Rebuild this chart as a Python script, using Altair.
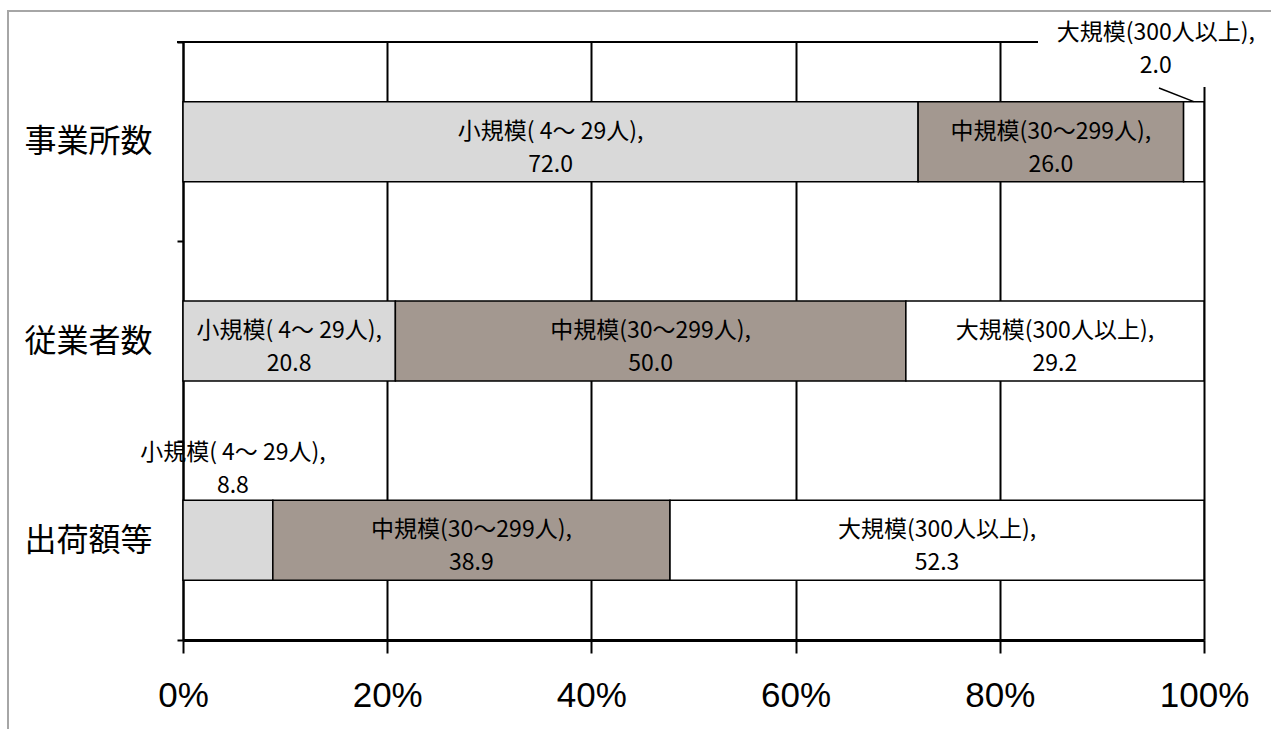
import altair as alt
import pandas as pd

categories = ["事業所数", "従業者数", "出荷額等"]
sizes = ["小規模( 4～ 29人)", "中規模(30～299人)", "大規模(300人以上)"]
values_office = [72.0, 26.0, 2.0]
values_workers = [20.8, 50.0, 29.2]
values_shipments = [8.8, 38.9, 52.3]
x_ticks = [0, 20, 40, 60, 80, 100]
size_colors = ["#d9d9d9", "#a39890", "#ffffff"]

rows = []
for cat, vals in zip(categories, [values_office, values_workers, values_shipments]):
    for i, (s, v) in enumerate(zip(sizes, vals)):
        rows.append({"cat": cat, "size": s, "order": i, "value": v,
                     "label": f"{s},\n{v:.1f}"})
df = pd.DataFrame(rows)

JP = "Noto Sans CJK JP"
FS = 23

base = alt.Chart(df).transform_stack(
    stack="value", groupby=["cat"], sort=[alt.SortField("order")], as_=["x0", "x1"]
).transform_calculate(mid="(datum.x0 + datum.x1) / 2")

yscale = alt.Scale(paddingInner=0, paddingOuter=0)
yenc = alt.Y("cat:N", sort=categories, title=None, scale=yscale,
             axis=alt.Axis(tickBand="extent", tickSize=6, tickWidth=2, tickColor="black",
                           domainColor="black", domainWidth=2, grid=False,
                           labelFont=JP, labelFontSize=32, labelColor="black",
                           labelPadding=25))

xscale = alt.Scale(domain=[0, 100], nice=False)
xaxis = alt.Axis(values=x_ticks, labelExpr="datum.value + '%'", title=None,
                 grid=True, gridColor="black", gridWidth=2, gridOpacity=1,
                 domainColor="black", domainWidth=3, tickColor="black", tickWidth=2,
                 tickSize=13, labelFont="Liberation Sans", labelFontSize=35,
                 labelColor="black", labelPadding=25, labelFlush=False)

bars = base.mark_bar(stroke="black", strokeWidth=1.5, height=80).encode(
    x=alt.X("x0:Q", scale=xscale, axis=xaxis),
    x2="x1:Q",
    y=yenc,
    color=alt.Color("size:N", scale=alt.Scale(domain=sizes, range=size_colors), legend=None),
)

ysimple = alt.Y("cat:N", sort=categories)

inside = base.transform_filter("datum.value >= 10").mark_text(
    font=JP, fontSize=FS, lineBreak="\n", lineHeight=33, baseline="middle",
    align="center", dy=-10, color="black"
).encode(x=alt.X("mid:Q", scale=xscale), y=ysimple, text="label:N")

out_top = base.transform_filter(
    (alt.datum.cat == categories[0]) & (alt.datum.value < 10)
).mark_text(font=JP, fontSize=FS, lineBreak="\n", lineHeight=33, baseline="middle",
            align="center", dx=-38, dy=-109, color="black"
).encode(x=alt.X("mid:Q", scale=xscale), y=ysimple, text="label:N")

out_left = base.transform_filter(
    (alt.datum.cat == categories[2]) & (alt.datum.value < 10)
).mark_text(font=JP, fontSize=FS, lineBreak="\n", lineHeight=33, baseline="middle",
            align="center", dx=5, dy=-87, color="black"
).encode(x=alt.X("mid:Q", scale=xscale), y=ysimple, text="label:N")

leader = base.transform_filter(
    (alt.datum.cat == categories[0]) & (alt.datum.value < 10)
).mark_rule(color="black", strokeWidth=1.5, yOffset=-40).encode(
    x=alt.X("mid:Q", scale=xscale), y=ysimple,
    x2=alt.value(976), y2=alt.value(46))

one = alt.Data(values=[{"a": 1}])

mask = alt.Chart(one).mark_rect(fill="white").encode(
    x=alt.value(855), x2=alt.value(1095), y=alt.value(-25), y2=alt.value(45))

top_line = alt.Chart(one).mark_rule(color="black", strokeWidth=2).encode(
    x=alt.value(-6), x2=alt.value(855), y=alt.value(0))

frame = alt.Chart(one).mark_rect(
    filled=False, stroke="#a6a6a6", strokeWidth=2).encode(
    x=alt.value(-175), x2=alt.value(1100), y=alt.value(-31), y2=alt.value(720))

chart = alt.layer(bars, leader, mask, top_line, inside, out_top, out_left, frame).properties(
    width=1021, height=598,
    autosize=alt.AutoSizeParams(type="none"),
    padding={"left": 183, "top": 42, "right": 67, "bottom": 89},
).configure_view(stroke=None).configure(background="white")

chart.save("out.html", embed_options={"renderer": "svg", "actions": False})
